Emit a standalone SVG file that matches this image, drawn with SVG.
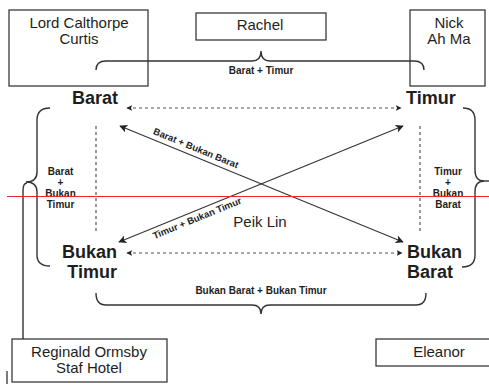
<svg xmlns="http://www.w3.org/2000/svg" width="489" height="387" viewBox="0 0 489 387">
<defs>
<style>
.box{fill:none;stroke:#3a3a3a;stroke-width:1.3}
.t{font-family:"Liberation Sans",Arial,sans-serif;fill:#1e1e1e}
.name{font-size:15px}
.big{font-size:18px;font-weight:bold}
.small{font-size:10px;font-weight:bold}
.lbl{font-size:9.5px;font-weight:bold}
.brace{fill:none;stroke:#333;stroke-width:1.4}
.dot{fill:none;stroke:#555;stroke-width:1.2;stroke-dasharray:3 3}
.arr{fill:none;stroke:#333;stroke-width:1.1}
</style>
<marker id="ah" viewBox="0 0 10 10" refX="9" refY="5" markerWidth="8" markerHeight="8" markerUnits="userSpaceOnUse" orient="auto-start-reverse">
<path d="M0,0 L10,5 L0,10 L2.5,5 Z" fill="#222"/>
</marker>
<marker id="dh" viewBox="0 0 10 10" refX="9" refY="5" markerWidth="6" markerHeight="6" markerUnits="userSpaceOnUse" orient="auto-start-reverse">
<path d="M0,0 L10,5 L0,10 L2.5,5 Z" fill="#222"/>
</marker>
</defs>
<rect width="489" height="387" fill="#fff"/>

<g id="lord">
<rect class="box" x="9" y="10" width="139" height="76"/>
<text class="t name" x="79" y="28" text-anchor="middle">Lord Calthorpe</text>
<text class="t name" x="79" y="44" text-anchor="middle">Curtis</text>
</g>
<g id="rachel">
<rect class="box" x="196" y="13" width="130" height="27"/>
<text class="t name" x="260" y="30" text-anchor="middle">Rachel</text>
</g>
<g id="nick">
<rect class="box" x="410" y="10" width="75" height="76"/>
<text class="t name" x="449" y="28" text-anchor="middle">Nick</text>
<text class="t name" x="449" y="44" text-anchor="middle">Ah Ma</text>
</g>
<g id="reginald">
<rect class="box" x="12" y="339" width="155" height="43"/>
<text class="t name" x="89" y="357" text-anchor="middle">Reginald Ormsby</text>
<text class="t name" x="89" y="373" text-anchor="middle">Staf Hotel</text>
</g>
<g id="eleanor">
<rect class="box" x="376" y="339" width="125" height="27"/>
<text class="t name" x="439" y="357" text-anchor="middle">Eleanor</text>
</g>
<g id="peiklin">
<text class="t name" x="260" y="227" text-anchor="middle">Peik Lin</text>
</g>

<g id="barat"><text class="t big" x="72" y="104">Barat</text></g>
<g id="timur"><text class="t big" x="406" y="104">Timur</text></g>
<g id="bukantimur">
<text class="t big" x="117" y="258" text-anchor="end">Bukan</text>
<text class="t big" x="117" y="278" text-anchor="end">Timur</text>
</g>
<g id="bukanbarat">
<text class="t big" x="407" y="258">Bukan</text>
<text class="t big" x="407" y="278">Barat</text>
</g>

<g id="connectors">
<path class="brace" d="M96,70 Q96,61 106,61 L252,61 Q261,61 261,51 Q261,61 270,61 L414,61 Q424,61 424,70"/>
<path class="brace" d="M96,293 Q96,305 106,305 L252,305 Q261,305 261,314 Q261,305 270,305 L416,305 Q426,305 426,293"/>
<path class="brace" d="M50,108 Q37,108 37,120 L37,172 Q37,182 26,182 Q37,182 37,192 L37,255 Q37,266 50,266"/>
<path class="brace" d="M27,183 Q23,183 23,191 L23,339"/>
<path class="brace" d="M463,108 Q475,108 475,120 L475,170 Q475,181 484,181 Q475,181 475,192 L475,255 Q475,267 462,267"/>
<path class="brace" d="M483,181 L492,181"/>
<line class="dot" x1="127" y1="108" x2="401" y2="108" marker-start="url(#dh)" marker-end="url(#dh)"/>
<line class="dot" x1="127" y1="253" x2="402" y2="253" marker-start="url(#dh)" marker-end="url(#dh)"/>
<line class="dot" x1="96" y1="126" x2="96" y2="233"/>
<line class="dot" x1="420" y1="126" x2="420" y2="233"/>
<line class="arr" x1="120" y1="126" x2="403" y2="242" marker-start="url(#ah)" marker-end="url(#ah)"/>
<line class="arr" x1="119" y1="242" x2="403" y2="126" marker-start="url(#ah)" marker-end="url(#ah)"/>
</g>

<g id="labels">
<text class="t small" x="261" y="74" text-anchor="middle">Barat + Timur</text>
<text class="t small" x="261" y="294" text-anchor="middle">Bukan Barat + Bukan Timur</text>
<text class="t small" text-anchor="middle"><tspan x="60.5" y="175">Barat</tspan><tspan x="60.5" y="186">+</tspan><tspan x="60.5" y="197">Bukan</tspan><tspan x="60.5" y="208">Timur</tspan></text>
<text class="t small" text-anchor="middle"><tspan x="448" y="175">Timur</tspan><tspan x="448" y="186">+</tspan><tspan x="448" y="197">Bukan</tspan><tspan x="448" y="208">Barat</tspan></text>
<text class="t lbl" transform="translate(196,148) rotate(22.4)" x="0" y="3.4" text-anchor="middle">Barat + Bukan Barat</text>
<text class="t lbl" transform="translate(197,218) rotate(-22.4)" x="0" y="3.4" text-anchor="middle">Timur + Bukan Timur</text>
</g>

<line x1="7" y1="196.5" x2="489" y2="196.5" stroke="#e8262c" stroke-width="1"/>
<line x1="7" y1="371" x2="7" y2="384" stroke="#222" stroke-width="1.2"/>
</svg>
